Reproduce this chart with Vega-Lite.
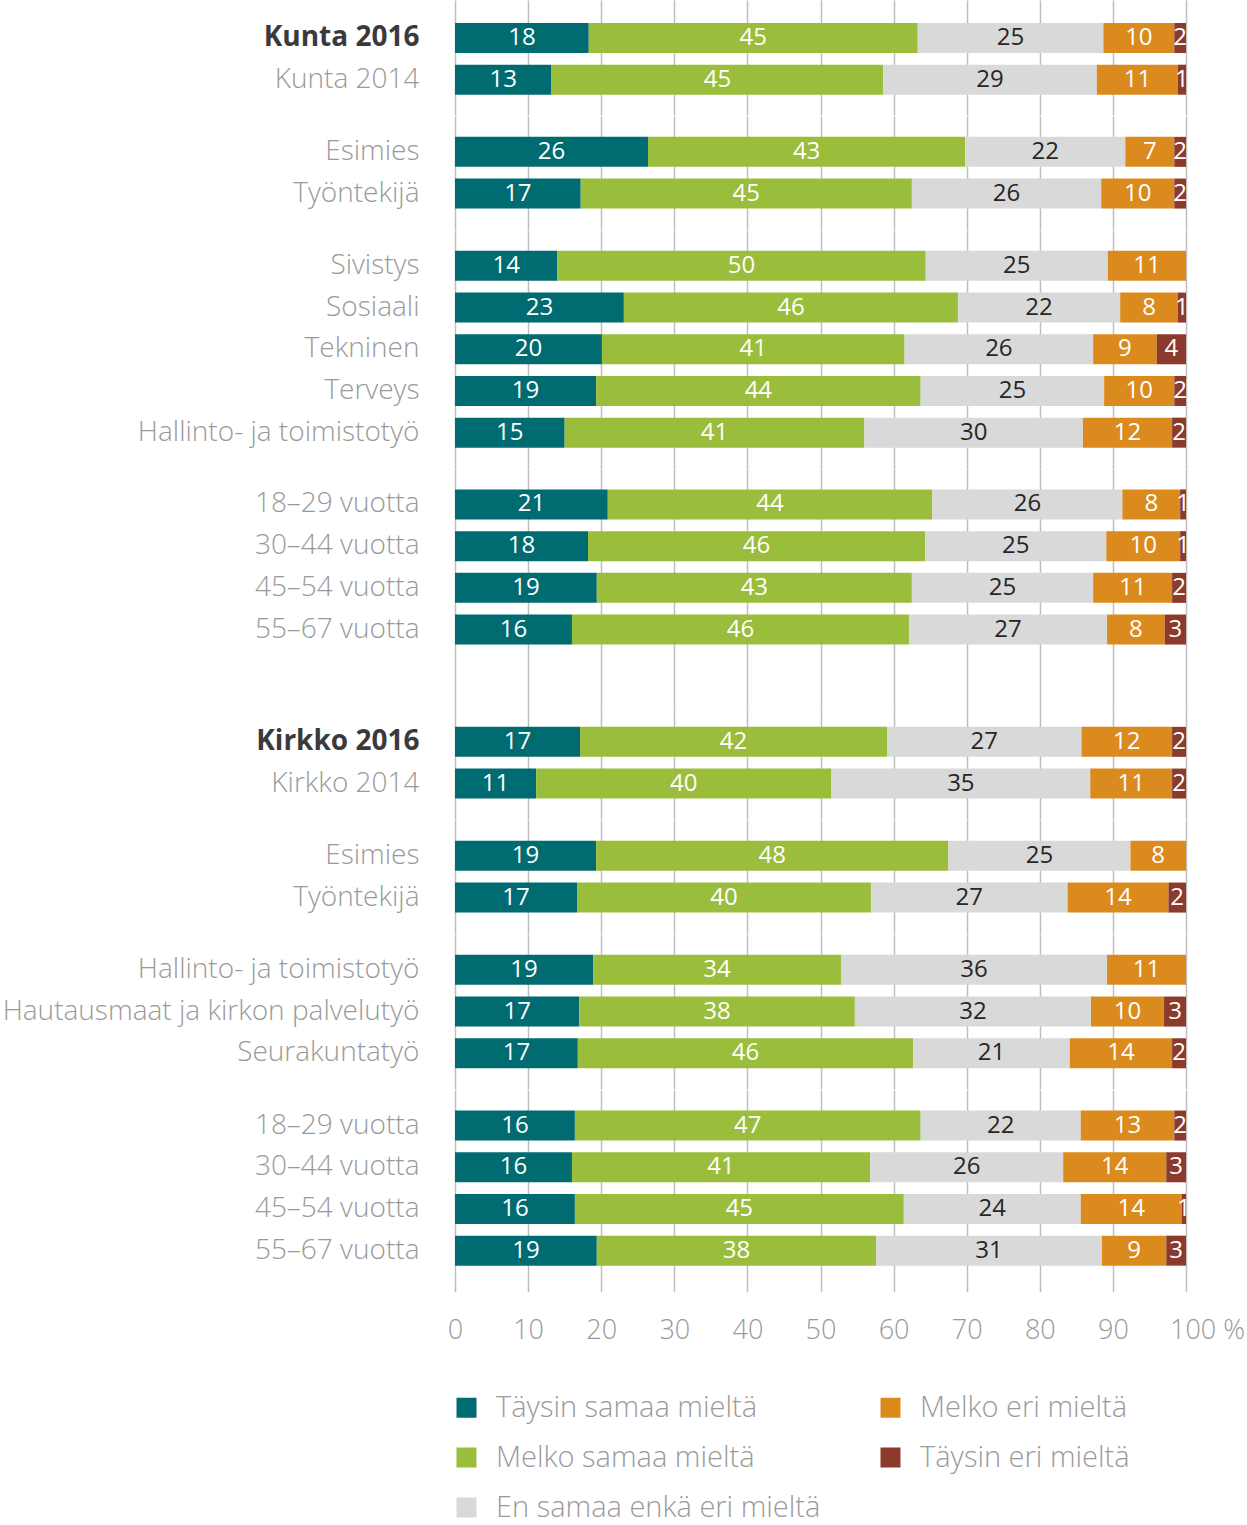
{
  "$schema": "https://vega.github.io/schema/vega-lite/v6.json",
  "background": "white",
  "padding": {"left": 2, "top": 0, "right": 0, "bottom": 0},
  "spacing": 0,
  "datasets": {
    "cats": [
      {"k": "a", "cat": "Täysin samaa mieltä", "ord": 1},
      {"k": "b", "cat": "Melko samaa mieltä", "ord": 2},
      {"k": "c", "cat": "En samaa enkä eri mieltä", "ord": 3},
      {"k": "d", "cat": "Melko eri mieltä", "ord": 4},
      {"k": "e", "cat": "Täysin eri mieltä", "ord": 5}
    ]
  },
  "data": {
    "values": [
      {"g": 1, "label": "Kunta 2016", "a": 18.3, "b": 45.0, "c": 25.4, "d": 9.7, "e": 1.6},
      {"g": 1, "label": "Kunta 2014", "a": 13.2, "b": 45.4, "c": 29.2, "d": 11.1, "e": 1.1},
      {"g": 2, "label": "Esimies", "a": 26.4, "b": 43.4, "c": 21.9, "d": 6.7, "e": 1.6},
      {"g": 2, "label": "Työntekijä", "a": 17.2, "b": 45.3, "c": 25.9, "d": 10.0, "e": 1.6},
      {"g": 3, "label": "Sivistys", "a": 14.0, "b": 50.4, "c": 24.9, "d": 10.7, "e": null},
      {"g": 3, "label": "Sosiaali", "a": 23.1, "b": 45.7, "c": 22.2, "d": 7.9, "e": 1.1},
      {"g": 3, "label": "Tekninen", "a": 20.1, "b": 41.4, "c": 25.8, "d": 8.7, "e": 4.0},
      {"g": 3, "label": "Terveys", "a": 19.3, "b": 44.4, "c": 25.1, "d": 9.6, "e": 1.6},
      {"g": 3, "label": "Hallinto- ja toimistotyö", "a": 15.0, "b": 41.0, "c": 29.9, "d": 12.2, "e": 1.9},
      {"g": 4, "label": "18–29 vuotta", "a": 20.9, "b": 44.4, "c": 26.0, "d": 7.9, "e": 0.8},
      {"g": 4, "label": "30–44 vuotta", "a": 18.2, "b": 46.1, "c": 24.8, "d": 10.1, "e": 0.8},
      {"g": 4, "label": "45–54 vuotta", "a": 19.4, "b": 43.1, "c": 24.8, "d": 10.8, "e": 1.9},
      {"g": 4, "label": "55–67 vuotta", "a": 16.0, "b": 46.1, "c": 27.1, "d": 7.9, "e": 2.9},
      {"g": 5, "label": "Kirkko 2016", "a": 17.1, "b": 42.0, "c": 26.6, "d": 12.4, "e": 1.9},
      {"g": 5, "label": "Kirkko 2014", "a": 11.1, "b": 40.4, "c": 35.4, "d": 11.2, "e": 1.9},
      {"g": 6, "label": "Esimies", "a": 19.3, "b": 48.2, "c": 24.9, "d": 7.6, "e": null},
      {"g": 6, "label": "Työntekijä", "a": 16.7, "b": 40.2, "c": 26.9, "d": 13.8, "e": 2.4},
      {"g": 7, "label": "Hallinto- ja toimistotyö", "a": 18.9, "b": 33.9, "c": 36.4, "d": 10.8, "e": null},
      {"g": 7, "label": "Hautausmaat ja kirkon palvelutyö", "a": 17.0, "b": 37.7, "c": 32.3, "d": 10.0, "e": 3.0},
      {"g": 7, "label": "Seurakuntatyö", "a": 16.8, "b": 45.9, "c": 21.4, "d": 14.0, "e": 1.9},
      {"g": 8, "label": "18–29 vuotta", "a": 16.4, "b": 47.3, "c": 21.9, "d": 12.8, "e": 1.6},
      {"g": 8, "label": "30–44 vuotta", "a": 16.0, "b": 40.8, "c": 26.4, "d": 14.1, "e": 2.7},
      {"g": 8, "label": "45–54 vuotta", "a": 16.4, "b": 45.0, "c": 24.2, "d": 13.8, "e": 0.6},
      {"g": 8, "label": "55–67 vuotta", "a": 19.4, "b": 38.2, "c": 30.9, "d": 8.8, "e": 2.7}
    ]
  },
  "transform": [
    {"fold": ["a", "b", "c", "d", "e"], "as": ["k", "v"]},
    {"filter": "isValid(datum.v) && datum.v > 0"},
    {"lookup": "k", "from": {"data": {"name": "cats"}, "key": "k", "fields": ["cat", "ord"]}},
    {"stack": "v", "groupby": ["g", "label"], "sort": [{"field": "ord", "order": "ascending"}], "as": ["x0", "x1"]},
    {"calculate": "(datum.x0 + datum.x1) / 2", "as": "mid"}
  ],
  "vconcat": [
    {
      "width": 731, "height": {"step": 41.7},
      "transform": [{"filter": "datum.g == 1"}],
      "encoding": {
        "y": {"field": "label", "type": "nominal", "sort": null, "scale": {"paddingInner": 0.28, "paddingOuter": 0.52, "align": 0.53}, "axis": {"title": null}}
      },
      "layer": [
        {"mark": {"type": "bar"}, "encoding": {"x": {"field": "x0", "type": "quantitative", "scale": {"domain": [0, 100]}, "axis": {"title": null, "labels": false, "ticks": false, "domain": false, "values": [0, 10, 20, 30, 40, 50, 60, 70, 80, 90, 100]}}, "x2": {"field": "x1"}, "color": {"field": "cat", "type": "nominal", "scale": {"domain": ["Täysin samaa mieltä", "Melko samaa mieltä", "En samaa enkä eri mieltä", "Melko eri mieltä", "Täysin eri mieltä"], "range": ["#006b71", "#9bbd3c", "#d9d9d9", "#db8a1e", "#8b3a2b"]}, "legend": {"orient": "none", "legendX": -3, "legendY": 1393, "columns": 2, "title": null}}}},
        {"mark": {"type": "text"}, "encoding": {"x": {"field": "mid", "type": "quantitative"}, "text": {"field": "v", "type": "quantitative", "format": ".0f"}, "color": {"condition": {"test": "datum.k == 'c'", "value": "#262626"}, "value": "white"}}}
      ]
    },
    {
      "width": 731, "height": {"step": 41.7},
      "transform": [{"filter": "datum.g == 2"}],
      "encoding": {
        "y": {"field": "label", "type": "nominal", "sort": null, "scale": {"paddingInner": 0.28, "paddingOuter": 0.5}, "axis": {"title": null}}
      },
      "layer": [
        {"mark": {"type": "bar"}, "encoding": {"x": {"field": "x0", "type": "quantitative", "scale": {"domain": [0, 100]}, "axis": {"title": null, "labels": false, "ticks": false, "domain": false, "values": [0, 10, 20, 30, 40, 50, 60, 70, 80, 90, 100]}}, "x2": {"field": "x1"}, "color": {"field": "cat", "type": "nominal"}}},
        {"mark": {"type": "text"}, "encoding": {"x": {"field": "mid", "type": "quantitative"}, "text": {"field": "v", "type": "quantitative", "format": ".0f"}, "color": {"condition": {"test": "datum.k == 'c'", "value": "#262626"}, "value": "white"}}}
      ]
    },
    {
      "width": 731, "height": {"step": 41.7},
      "transform": [{"filter": "datum.g == 3"}],
      "encoding": {
        "y": {"field": "label", "type": "nominal", "sort": null, "scale": {"paddingInner": 0.28, "paddingOuter": 0.5}, "axis": {"title": null}}
      },
      "layer": [
        {"mark": {"type": "bar"}, "encoding": {"x": {"field": "x0", "type": "quantitative", "scale": {"domain": [0, 100]}, "axis": {"title": null, "labels": false, "ticks": false, "domain": false, "values": [0, 10, 20, 30, 40, 50, 60, 70, 80, 90, 100]}}, "x2": {"field": "x1"}, "color": {"field": "cat", "type": "nominal"}}},
        {"mark": {"type": "text"}, "encoding": {"x": {"field": "mid", "type": "quantitative"}, "text": {"field": "v", "type": "quantitative", "format": ".0f"}, "color": {"condition": {"test": "datum.k == 'c'", "value": "#262626"}, "value": "white"}}}
      ]
    },
    {
      "width": 731, "height": {"step": 41.7},
      "transform": [{"filter": "datum.g == 4"}],
      "encoding": {
        "y": {"field": "label", "type": "nominal", "sort": null, "scale": {"paddingInner": 0.28, "paddingOuter": 0.98, "align": 0.25}, "axis": {"title": null}}
      },
      "layer": [
        {"mark": {"type": "bar"}, "encoding": {"x": {"field": "x0", "type": "quantitative", "scale": {"domain": [0, 100]}, "axis": {"title": null, "labels": false, "ticks": false, "domain": false, "values": [0, 10, 20, 30, 40, 50, 60, 70, 80, 90, 100]}}, "x2": {"field": "x1"}, "color": {"field": "cat", "type": "nominal"}}},
        {"mark": {"type": "text"}, "encoding": {"x": {"field": "mid", "type": "quantitative"}, "text": {"field": "v", "type": "quantitative", "format": ".0f"}, "color": {"condition": {"test": "datum.k == 'c'", "value": "#262626"}, "value": "white"}}}
      ]
    },
    {
      "width": 731, "height": {"step": 41.7},
      "transform": [{"filter": "datum.g == 5"}],
      "encoding": {
        "y": {"field": "label", "type": "nominal", "sort": null, "scale": {"paddingInner": 0.28, "paddingOuter": 0.5}, "axis": {"title": null}}
      },
      "layer": [
        {"mark": {"type": "bar"}, "encoding": {"x": {"field": "x0", "type": "quantitative", "scale": {"domain": [0, 100]}, "axis": {"title": null, "labels": false, "ticks": false, "domain": false, "values": [0, 10, 20, 30, 40, 50, 60, 70, 80, 90, 100]}}, "x2": {"field": "x1"}, "color": {"field": "cat", "type": "nominal"}}},
        {"mark": {"type": "text"}, "encoding": {"x": {"field": "mid", "type": "quantitative"}, "text": {"field": "v", "type": "quantitative", "format": ".0f"}, "color": {"condition": {"test": "datum.k == 'c'", "value": "#262626"}, "value": "white"}}}
      ]
    },
    {
      "width": 731, "height": {"step": 41.7},
      "transform": [{"filter": "datum.g == 6"}],
      "encoding": {
        "y": {"field": "label", "type": "nominal", "sort": null, "scale": {"paddingInner": 0.28, "paddingOuter": 0.5}, "axis": {"title": null}}
      },
      "layer": [
        {"mark": {"type": "bar"}, "encoding": {"x": {"field": "x0", "type": "quantitative", "scale": {"domain": [0, 100]}, "axis": {"title": null, "labels": false, "ticks": false, "domain": false, "values": [0, 10, 20, 30, 40, 50, 60, 70, 80, 90, 100]}}, "x2": {"field": "x1"}, "color": {"field": "cat", "type": "nominal"}}},
        {"mark": {"type": "text"}, "encoding": {"x": {"field": "mid", "type": "quantitative"}, "text": {"field": "v", "type": "quantitative", "format": ".0f"}, "color": {"condition": {"test": "datum.k == 'c'", "value": "#262626"}, "value": "white"}}}
      ]
    },
    {
      "width": 731, "height": {"step": 41.7},
      "transform": [{"filter": "datum.g == 7"}],
      "encoding": {
        "y": {"field": "label", "type": "nominal", "sort": null, "scale": {"paddingInner": 0.28, "paddingOuter": 0.5}, "axis": {"title": null}}
      },
      "layer": [
        {"mark": {"type": "bar"}, "encoding": {"x": {"field": "x0", "type": "quantitative", "scale": {"domain": [0, 100]}, "axis": {"title": null, "labels": false, "ticks": false, "domain": false, "values": [0, 10, 20, 30, 40, 50, 60, 70, 80, 90, 100]}}, "x2": {"field": "x1"}, "color": {"field": "cat", "type": "nominal"}}},
        {"mark": {"type": "text"}, "encoding": {"x": {"field": "mid", "type": "quantitative"}, "text": {"field": "v", "type": "quantitative", "format": ".0f"}, "color": {"condition": {"test": "datum.k == 'c'", "value": "#262626"}, "value": "white"}}}
      ]
    },
    {
      "width": 731, "height": {"step": 41.7},
      "transform": [{"filter": "datum.g == 8"}],
      "encoding": {
        "y": {"field": "label", "type": "nominal", "sort": null, "scale": {"paddingInner": 0.28, "paddingOuter": 0.56, "align": 0.44}, "axis": {"title": null}}
      },
      "layer": [
        {"mark": {"type": "bar"}, "encoding": {"x": {"field": "x0", "type": "quantitative", "scale": {"domain": [0, 100]}, "axis": {"title": null, "labels": true, "ticks": false, "domain": false, "values": [0, 10, 20, 30, 40, 50, 60, 70, 80, 90, 100], "labelPadding": 26, "labelFlush": false, "labelExpr": "datum.value == 100 ? '100 %' : datum.label", "labelOffset": {"condition": {"test": "datum.value == 100", "value": 21}, "value": 0}}}, "x2": {"field": "x1"}, "color": {"field": "cat", "type": "nominal"}}},
        {"mark": {"type": "text"}, "encoding": {"x": {"field": "mid", "type": "quantitative"}, "text": {"field": "v", "type": "quantitative", "format": ".0f"}, "color": {"condition": {"test": "datum.k == 'c'", "value": "#262626"}, "value": "white"}}}
      ]
    }
  ],
  "resolve": {"scale": {"y": "independent"}},
  "config": {
    "font": "Open Sans",
    "view": {"stroke": null},
    "axisX": {"grid": true, "gridColor": "#bfbfbf", "gridWidth": 1.5, "labelFontSize": 27, "labelColor": "#9a9a9a", "labelFont": "Open Sans", "labelFontWeight": 300},
    "axisY": {"grid": false, "domain": false, "ticks": false, "labelPadding": 36, "labelFontSize": 28, "labelFont": "Open Sans", "labelColor": {"condition": {"test": "indexof(datum.label, '2016') >= 0", "value": "#3a3a3a"}, "value": "#9a9a9a"}, "labelFontWeight": {"condition": {"test": "indexof(datum.label, '2016') >= 0", "value": "bold"}, "value": 300}, "labelLimit": 0},
    "text": {"fontSize": 24, "font": "Open Sans", "align": "center", "baseline": "middle"},
    "legend": {
      "symbolType": "square", "symbolSize": 400, "symbolStrokeWidth": 0, "symbolOpacity": 1,
      "labelFontSize": 29, "labelFont": "Open Sans", "labelFontWeight": 300, "labelColor": "#9a9a9a", "labelOffset": 15,
      "columnPadding": 55, "rowPadding": 20, "labelLimit": 0
    }
  }
}
